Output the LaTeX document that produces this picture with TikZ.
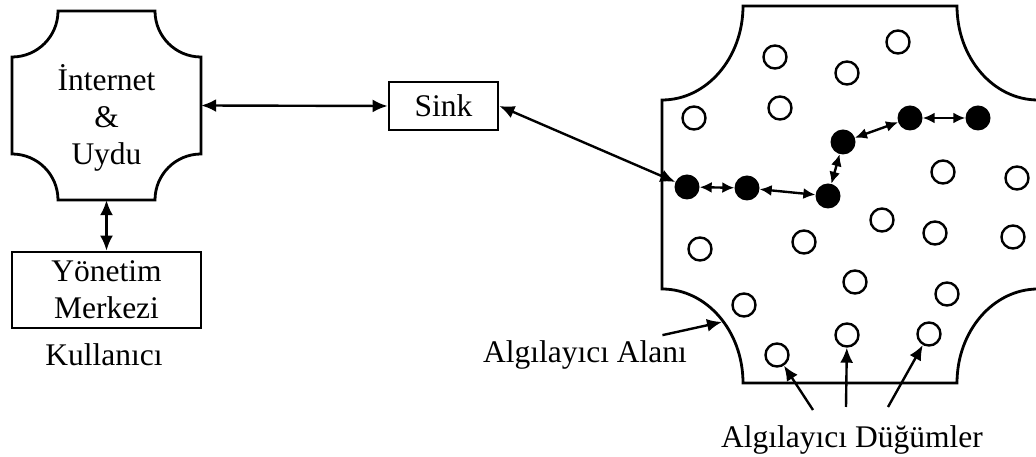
\documentclass[tikz,border=0pt]{standalone}
\usepackage{fontspec}
\setmainfont{Liberation Serif}
\usetikzlibrary{arrows.meta,calc,positioning}

\begin{document}
\begin{tikzpicture}[x=1pt,y=1pt,>={Latex[length=15pt,width=13pt]},
  every node/.style={font=\fontsize{31.5}{37}\selectfont},
  kutu/.style={draw,line width=2.8pt,inner sep=0pt},
  bos/.style={circle,draw,line width=2.4pt,minimum size=23pt,inner sep=0pt},
  dolu/.style={circle,fill=black,minimum size=25pt,inner sep=0pt},
  ok/.style={<->,line width=2.4pt},
  kisaok/.style={{Latex[length=12pt,width=11pt]}-{Latex[length=12pt,width=11pt]},line width=2.4pt},
  tekok/.style={->,line width=2.4pt}]
  \useasboundingbox (0,0) rectangle (1036,457);

  \draw[line width=2.8pt] (58,446) -- (155,446)
    arc[start angle=180,end angle=270,radius=46] -- (201,303)
    arc[start angle=90,end angle=180,radius=46] -- (58,257)
    arc[start angle=0,end angle=90,radius=46] -- (12,400)
    arc[start angle=270,end angle=360,radius=46] -- cycle;
  \node[minimum width=189pt,minimum height=189pt,inner sep=0pt] (net) at (106.5,351.5) {};
  \node[align=center] (netyazi) at ($(net.center)+(0,-12)$) {İnternet\\\&\\Uydu};

  \node[kutu,minimum width=189pt,minimum height=76pt,align=center] (yonetim) at (106.5,167) {Yönetim\\Merkezi};
  \node (kullanici) at (104,102) {Kullanıcı};
  \node[kutu,minimum width=109pt,minimum height=48pt] (sink) at (443.5,351) {Sink};

  \draw[line width=2.8pt] (743,451) -- (957,451)
    arc[start angle=180,end angle=270,x radius=81,y radius=94] -- (1038,168)
    arc[start angle=90,end angle=180,x radius=81,y radius=94] -- (743,74)
    arc[start angle=0,end angle=90,x radius=81,y radius=94] -- (662,357)
    arc[start angle=270,end angle=360,x radius=81,y radius=94] -- cycle;

  \foreach \x/\y [count=\i] in {775/400,847/384,898/415,780/349,694/339,943/285,
      1017/279,882/237,935/224,1013/220,700/208,804/215,855/175,947/163,
      744/152,847/122,929/123,777/102}
    \node[bos] (b\i) at (\x,\y) {};
  \foreach \x/\y [count=\i] in {687/270,747/269,828/261,843/315,910/339,978/339}
    \node[dolu] (d\i) at (\x,\y) {};

  \draw[ok] (net.east) -- (sink.west);
  \draw[ok] (net.south) -- (yonetim.north);
  \draw[ok] (sink.east) -- (d1);
  \foreach \a/\b in {1/2,2/3,3/4,4/5,5/6}
    \draw[kisaok] (d\a) -- (d\b);

  \node (alan) at (585,102) {Algılayıcı Alanı};
  \coordinate (alanuc) at (722,135);
  \draw[tekok] ($(alan.north east)+(-28,2)$) -- (alanuc);

  \node (dugum) at (852,17) {Algılayıcı Düğümler};
  \coordinate (u1) at (813,47);
  \coordinate (u2) at (846,50);
  \coordinate (u3) at (888,50);
  \draw[tekok] (u1) -- (b18);
  \draw[tekok] (u2) -- (b16);
  \draw[tekok] (u3) -- (b17);
\end{tikzpicture}
\end{document}
